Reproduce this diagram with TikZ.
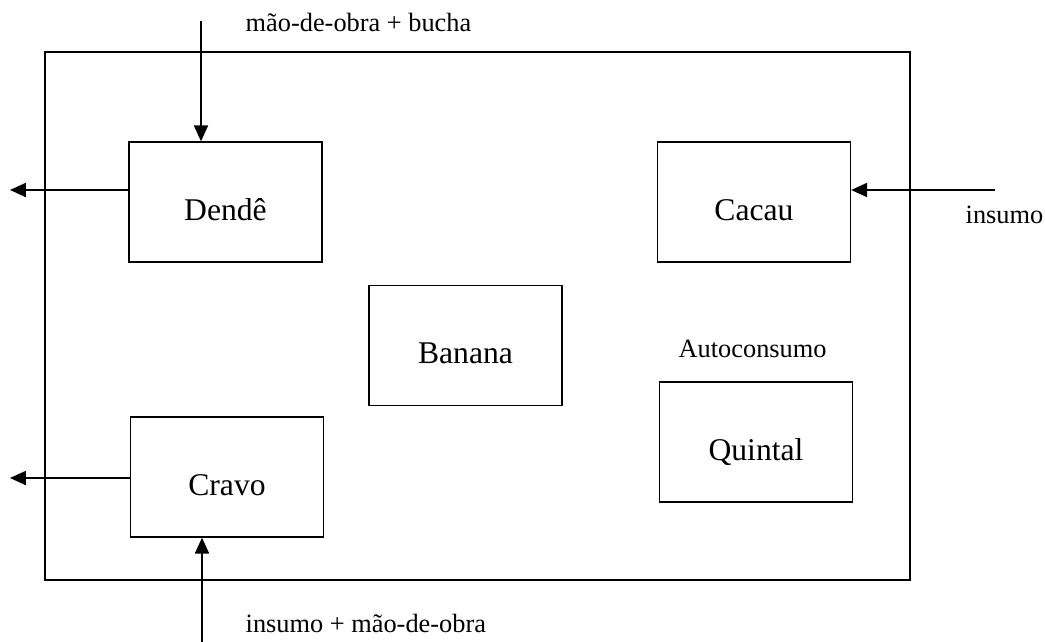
\documentclass[tikz,border=0pt]{standalone}
\usepackage{fontspec}
\setmainfont{Liberation Serif}
\usetikzlibrary{arrows.meta,positioning}

\begin{document}
\begin{tikzpicture}[
            x=0.02cm, y=-0.02cm,
            line width=0.8pt,
            box/.style={draw, minimum width=3.86cm, minimum height=2.4cm, text height=25pt, text depth=4.5pt, font=\fontsize{18}{21}\selectfont},
            lbl/.style={anchor=base west, inner sep=0pt, font=\fontsize{15}{17}\selectfont},
            >={Triangle[length=9pt,width=8pt]}
        ]
        \useasboundingbox (0,0) rectangle (1045,642);

        % outer frame
        \draw (45,52) rectangle (910,580);

        \node[box] (dende) at (225.5,202) {Dendê};
        \node[box] (cacau) at (754,202) {Cacau};
        \node[box] (banana) at (465.5,345.5) {Banana};
        \node[box] (quintal) at (756,442) {Quintal};
        \node[box] (cravo) at (227,477) {Cravo};

        \coordinate (topin) at (201,21);
        \coordinate (botin) at (202,642);
        \coordinate (dendeout) at (10,190);
        \coordinate (cravoout) at (10,478);
        \coordinate (cacauin) at (995,190);

        \draw[->] (topin) -- (topin |- dende.north);
        \draw[->] (botin) -- (botin |- cravo.south);
        \draw[->] (dendeout -| dende.west) -- (dendeout);
        \draw[->] (cravoout -| cravo.west) -- (cravoout);
        \draw[->] (cacauin) -- (cacauin -| cacau.east);

        \node[lbl] (lbltop) at (245,32) {mão-de-obra + bucha};
        \node[lbl] (lblbot) at (245,632) {insumo + mão-de-obra};
        \node[lbl] (lblcacau) at (965,223) {insumo};
        \node[lbl] (lblauto) at (678,357) {Autoconsumo};
    \end{tikzpicture}
\end{document}
